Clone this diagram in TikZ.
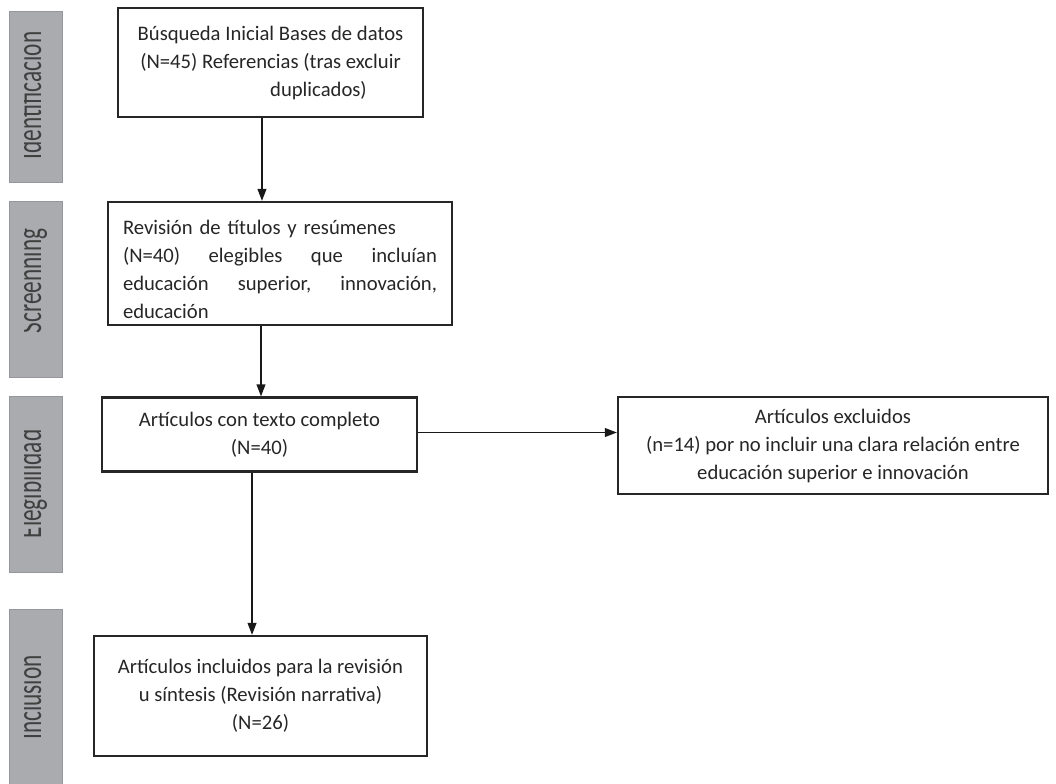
\documentclass[tikz,border=0pt]{standalone}
\usepackage{fontspec}
\setmainfont{Carlito}
\usetikzlibrary{arrows.meta, positioning}
\definecolor{barfill}{RGB}{170,171,175}
\definecolor{barline}{RGB}{150,151,156}

\begin{document}
\begin{tikzpicture}[
    x=0.75pt, y=-0.75pt,
    font=\fontsize{15.5}{21}\selectfont,
    box/.style={draw=black!85, line width=1.6pt, inner sep=0pt, text=black!85, align=center},
    stagebar/.style={draw=barline, fill=barfill, line width=0.6pt, minimum width=39.75pt, inner sep=0pt},
    stagelabel/.style={rotate=90, yscale=1.5, anchor=base, text=black!75, font=\fontsize{17.5}{21}\selectfont},
    arr/.style={-{Triangle[length=9pt,width=6.5pt]}, line width=1.3pt, color=black!90}
]
   \useasboundingbox (0,0) rectangle (1056,783);

   % Stage bars
   \node[stagebar, minimum height=128.25pt] (idbar) at (35.5,96.5) {};
   \node[stagebar, minimum height=132pt] (scbar) at (35.5,289) {};
   \node[stagebar, minimum height=132pt] (elbar) at (35.5,484) {};
   \node[stagebar, minimum height=135.75pt] (inbar) at (35.5,699.5) {};

   % Stage labels (tops cut off as printed)
   \begin{scope}
     \clip ([xshift=11.6pt]idbar.south west) rectangle (idbar.north east);
     \node[stagelabel] (idlab) at (41,95.5) {Identificación};
   \end{scope}
   \begin{scope}
     \clip ([xshift=11.6pt]scbar.south west) rectangle (scbar.north east);
     \node[stagelabel] (sclab) at (41,281) {Screenning};
   \end{scope}
   \begin{scope}
     \clip ([xshift=11.6pt]elbar.south west) rectangle (elbar.north east);
     \node[stagelabel] (ellab) at (41,484) {Elegibilidad};
   \end{scope}
   \begin{scope}
     \clip ([xshift=11.6pt]inbar.south west) rectangle (inbar.north east);
     \node[stagelabel] (inlab) at (41,697.5) {Inclusión};
   \end{scope}

   % Boxes
   \node[box, minimum width=228.75pt, minimum height=81.75pt] (search) at (270.5,62.5)
     {Búsqueda Inicial Bases de datos\\(N=45) Referencias (tras excluir\\\hspace*{72pt}duplicados)};
   \node[box, minimum width=258pt, minimum height=92.25pt, text width=235.5pt, align=left] (screen) at (280,263.5)
     {\rule{0pt}{19pt}Revisión de títulos y resúmenes\\
      (N=40)\hfill elegibles\hfill que\hfill incluían\\
      educación\hfill superior,\hfill innovación,\\
      educación};
   \node[box, minimum width=236.25pt, minimum height=55.5pt] (fulltext) at (259.5,434.5)
     {Artículos con texto completo\\(N=40)};
   \node[box, minimum width=322.5pt, minimum height=72.75pt] (excluded) at (833,445.5)
     {Artículos excluidos\\(n=14) por no incluir una clara relación entre\\educación superior e innovación};
   \node[box, minimum width=249.75pt, minimum height=90pt] (included) at (260.5,696)
     {Artículos incluidos para la revisión\\u síntesis (Revisión narrativa)\\(N=26)};

   % Arrows
   \path[arr]
   ([xshift=-6.4pt]search.south) edge ([xshift=-6.4pt]search.south |- screen.north)
   ([xshift=-14.25pt]screen.south) edge ([xshift=-14.25pt]screen.south |- fulltext.north)
   ([xshift=-5.6pt]fulltext.south) edge ([xshift=-5.6pt]fulltext.south |- included.north)
   ([yshift=1.5pt]fulltext.east) edge ([yshift=1.5pt]fulltext.east -| excluded.west);

\end{tikzpicture}
\end{document}
